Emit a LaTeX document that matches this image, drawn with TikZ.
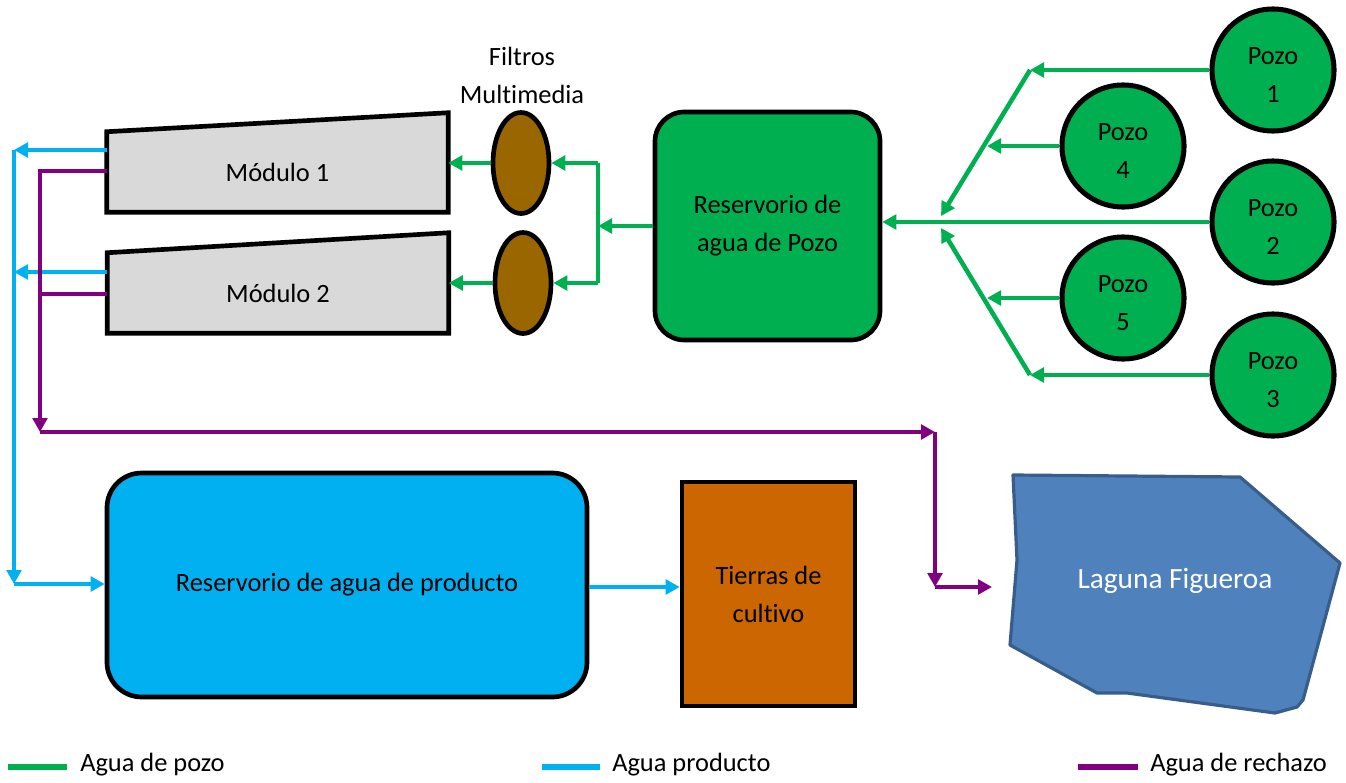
\documentclass[tikz,border=0pt]{standalone}
\usepackage{fontspec}
\setmainfont{Carlito}[Ligatures=NoCommon]
\usetikzlibrary{arrows.meta,shapes.geometric,calc}
\definecolor{cpozo}{HTML}{00B050}
\definecolor{cprod}{HTML}{00B0F0}
\definecolor{crech}{HTML}{800080}
\definecolor{cfiltro}{HTML}{996600}
\definecolor{cmodulo}{HTML}{D9D9D9}
\definecolor{ctierra}{HTML}{CC6600}
\definecolor{claguna}{HTML}{4F81BD}
\definecolor{clagunab}{HTML}{385D8A}
\pgfdeclarelayer{bg}
\pgfsetlayers{bg,main}
\newcommand{\wellstrut}{\rule{0pt}{20pt}}
\begin{document}
\begin{tikzpicture}[x=0.75pt,y=-0.75pt,
  every node/.style={font=\fontsize{19.8}{28.5}\selectfont, align=center},
  pipe/.style={line width=3.4pt},
  flow/.style={pipe, -{Triangle[length=10.5pt,width=11pt]}},
  gflow/.style={flow, draw=cpozo},
  bflow/.style={flow, draw=cprod},
  pflow/.style={flow, draw=crech},
  well/.style={circle, draw=black, line width=3.8pt, fill=cpozo, minimum size=91.5pt, inner sep=0pt},
  tank/.style={rectangle, draw=black, line width=3.5pt},
  filt/.style={ellipse, draw=black, line width=3.5pt, fill=cfiltro, minimum width=42pt, minimum height=75.75pt, inner sep=0pt},
  modbox/.style={rectangle, minimum width=255.75pt, minimum height=60pt, inner sep=0pt},
  modshape/.style={draw=black, line width=3.5pt, fill=cmodulo},
  legline/.style={line width=4pt},
]
\useasboundingbox (0,0) rectangle (1346,782);

% wells
\node[well] (p1) at (1273,70) {\wellstrut Pozo\\1};
\node[well] (p4) at (1123,146) {\wellstrut Pozo\\4};
\node[well] (p2) at (1273,222) {\wellstrut Pozo\\2};
\node[well] (p5) at (1123,298) {\wellstrut Pozo\\5};
\node[well] (p3) at (1273,375) {\wellstrut Pozo\\3};

% reservoir of well water
\node[tank, fill=cpozo, rounded corners=22pt, minimum width=168.75pt, minimum height=171pt] (rp) at (767.5,226) {Reservorio de\\agua de Pozo};

% filters
\node[filt] (f1) at (521,163) {};
\node[filt] (f2) at (523,283) {};
\node (flab) at (522,75) {Filtros\\Multimedia};

% modules
\node[modbox] (m1) at (277.5,172) {Módulo 1};
\node[modbox] (m2) at (278,293) {Módulo 2};
\begin{pgfonlayer}{bg}
\draw[modshape] (m1.south west) -- (m1.south east) -- ($(m1.north east)+(0,-19)$) -- (m1.north west) -- cycle;
\draw[modshape] (m2.south west) -- (m2.south east) -- ($(m2.north east)+(0,-20)$) -- (m2.north west) -- cycle;
\end{pgfonlayer}

% product reservoir and fields
\node[tank, fill=cprod, rounded corners=26pt, minimum width=360pt, minimum height=168pt] (rpr) at (347,585) {Reservorio de agua de producto};
\node[tank, fill=ctierra, minimum width=129.75pt, minimum height=168pt] (tc) at (768.5,594) {Tierras de\\cultivo};

% lagoon
\draw[fill=claguna, draw=clagunab, line width=2.4pt, line join=round]
  (1013,475) -- (1240,477) -- (1340,563) -- (1303,700) -- (1297,707) -- (1275,713)
  -- (1127,693) -- (1097,693) -- (1010,645) -- (1017,560) -- cycle;
\node[text=white, font=\fontsize{22}{26}\selectfont] (lag) at (1175,581) {Laguna Figueroa};

% well-water connectors
\coordinate (j1) at (1030,70);
\coordinate (j4) at (987,146);
\coordinate (j5) at (987,298);
\coordinate (j3) at (1030,375);
\coordinate (jt) at (941,216);
\coordinate (jb) at (941,228);
\draw[gflow] (p1.west) -- (j1);
\draw[gflow] (p4.west) -- (j4);
\draw[gflow] (p5.west) -- (j5);
\draw[gflow] (p3.west) -- (j3);
\draw[gflow] (j1) -- (jt);
\draw[gflow] (j3) -- (jb);
\draw[gflow] (p2.west) -- (p2.west -| rp.east);

\coordinate (bc) at (598,226);
\coordinate (bt) at (598,163);
\coordinate (bb) at (598,283);
\draw[gflow] (rp.west) -- (bc);
\draw[pipe, draw=cpozo] (bt) -- (bb);
\draw[gflow] (bt) -- (f1.east);
\draw[gflow] (bb) -- (f2.east);
\draw[gflow] (f1.west) -- (f1.west -| m1.east);
\draw[gflow] (f2.west) -- (f2.west -| m2.east);

% product water connectors
\coordinate (bv1) at (14,150);
\coordinate (bv2) at (14,272);
\coordinate (bvb) at (14,584);
\draw[bflow] (bv1 -| m1.west) -- (bv1);
\draw[bflow] (bv2 -| m2.west) -- (bv2);
\draw[bflow] (bv1) -- (bvb);
\draw[bflow] (bvb) -- (bvb -| rpr.west);
\coordinate (pe) at (589,587);
\draw[bflow] (pe) -- (pe -| tc.west);

% reject water connectors
\coordinate (pv1) at (40,171);
\coordinate (pv2) at (40,294);
\coordinate (pc) at (40,432);
\coordinate (pr) at (935,432);
\coordinate (pd) at (935,587);
\coordinate (lg) at (992,587);
\draw[pflow] (pv1 -| m1.west) -- (pv1) -- (pc);
\draw[pipe, draw=crech] (pv2 -| m2.west) -- (pv2);
\draw[pflow] (pc) -- (pr);
\draw[pflow] (pr) -- (pd);
\draw[pflow] (pd) -- (lg);

% legend
\coordinate (lga) at (8,767);
\coordinate (lgb) at (67,767);
\coordinate (lpa) at (542,767);
\coordinate (lpb) at (600,767);
\coordinate (lra) at (1078,767);
\coordinate (lrb) at (1138,767);
\draw[legline, draw=cpozo] (lga) -- (lgb);
\draw[legline, draw=cprod] (lpa) -- (lpb);
\draw[legline, draw=crech] (lra) -- (lrb);
\node[anchor=west, inner sep=0pt] (tlg) at (80,765) {Agua de pozo};
\node[anchor=west, inner sep=0pt] (tlp) at (612,765) {Agua producto};
\node[anchor=west, inner sep=0pt] (tlr) at (1150,765) {Agua de rechazo};
\end{tikzpicture}
\end{document}
